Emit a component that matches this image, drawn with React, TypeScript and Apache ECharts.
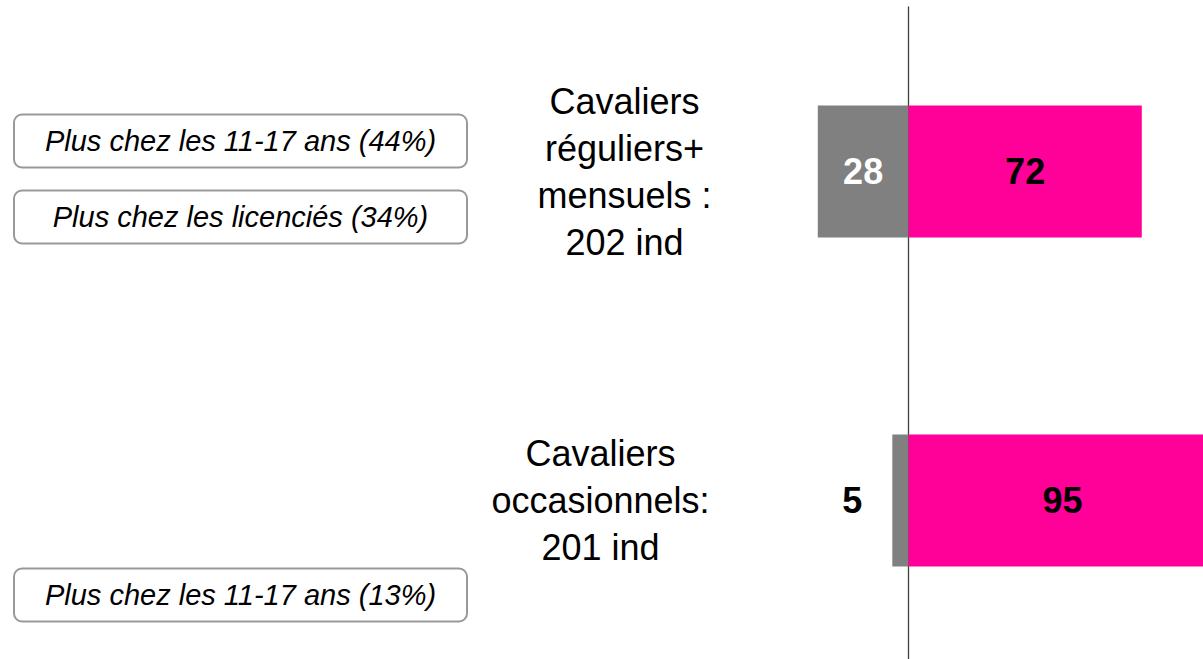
import React, { useEffect, useRef } from "react";
import * as echarts from "echarts";

const categories = [
  "Cavaliers\nréguliers+\nmensuels :\n202 ind",
  "Cavaliers\noccasionnels:\n201 ind",
];
const nonValues = [28, 5];
const ouiValues = [72, 95];
const notes = [
  "Plus chez les 11-17 ans (44%)",
  "Plus chez les licenciés (34%)",
  "Plus chez les 11-17 ans (13%)",
];

const FONT = "'Liberation Sans', Arial, Helvetica, sans-serif";

export default function App() {
  const ref = useRef<HTMLDivElement>(null);
  useEffect(() => {
    if (!ref.current) return;
    const chart = echarts.init(ref.current, null, { renderer: "svg" });
    const noteBoxes = [
      { y: 113.5, text: notes[0] },
      { y: 189.5, text: notes[1] },
      { y: 567.5, text: notes[2] },
    ];
    chart.setOption({
      animation: false,
      backgroundColor: "#ffffff",
      grid: {
        left: 584.5,
        width: 648,
        top: 7,
        height: 658,
        containLabel: false,
        outerBoundsMode: "none",
      },
      xAxis: {
        type: "value",
        min: -100,
        max: 100,
        show: false,
        splitLine: { show: false },
      },
      yAxis: {
        type: "category",
        inverse: true,
        data: categories,
        axisLine: { show: true, onZero: true, lineStyle: { color: "#404040", width: 1.3 } },
        axisTick: { show: false },
        splitLine: { show: false },
        axisLabel: { show: false },
      },
      series: [
        {
          type: "bar",
          name: "Non",
          stack: "total",
          barWidth: 132,
          itemStyle: { color: "#808080" },
          data: nonValues.map((v, i) => ({
            value: -v,
            label:
              i === 1
                ? { position: "left", distance: 30, color: "#000000" }
                : { position: "inside", color: "#ffffff" },
          })),
          label: {
            show: true,
            fontFamily: FONT,
            fontSize: 36,
            fontWeight: "bold",
            formatter: (p: any) => String(Math.abs(p.value)),
          },
          z: 1,
        },
        {
          type: "bar",
          name: "Oui",
          stack: "total",
          barWidth: 132,
          itemStyle: { color: "#FF0099" },
          data: ouiValues,
          label: {
            show: true,
            position: "inside",
            fontFamily: FONT,
            fontSize: 36,
            fontWeight: "bold",
            color: "#000000",
          },
          z: 1,
        },
      ],
    });

    // category labels placed through the axes' own scales
    const labelOffsets = [284, 308];
    const catLabels = categories.map((c, i) => {
      const [x0, y] = chart.convertToPixel({ gridIndex: 0 }, [0, c]) as number[];
      return {
        type: "text",
        x: x0 - labelOffsets[i],
        y: y,
        style: {
          text: c,
          fontFamily: FONT,
          fontSize: 36,
          lineHeight: 47,
          fill: "#000000",
          align: "center",
          verticalAlign: "middle",
        },
      };
    });

    chart.setOption({
      graphic: [
        ...noteBoxes.map((b) => ({
          type: "group",
          left: 13,
          top: b.y,
          children: [
            {
              type: "rect",
              shape: { x: 0, y: 0, width: 453, height: 53, r: 8 },
              style: { fill: "#ffffff", stroke: "#999999", lineWidth: 2 },
            },
            {
              type: "text",
              x: 226.5,
              y: 26.5,
              style: {
                text: b.text,
                fontFamily: FONT,
                fontSize: 29,
                fontStyle: "italic",
                fill: "#000000",
                align: "center",
                verticalAlign: "middle",
              },
            },
          ],
        })),
        ...catLabels,
      ],
    });
    return () => chart.dispose();
  }, []);
  return (
    <div
      ref={ref}
      style={{ position: "absolute", left: 0, top: 0, width: 1203, height: 659 }}
    />
  );
}
